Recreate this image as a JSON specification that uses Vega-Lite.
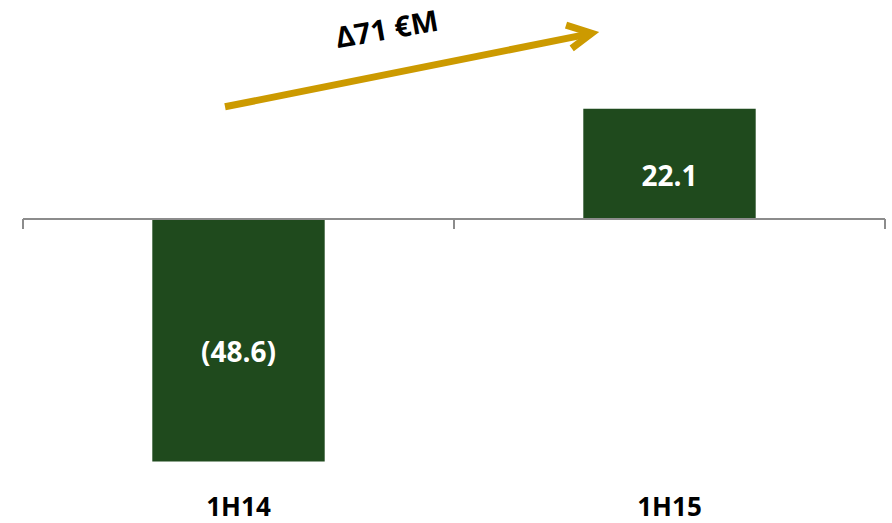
{
  "$schema": "https://vega.github.io/schema/vega-lite/v6.json",
  "width": 862,
  "height": 480,
  "padding": {"left": 22, "top": 0, "right": 8, "bottom": 10},
  "config": {"view": {"stroke": null}, "font": "Open Sans"},
  "datasets": {
    "bars": [
      {"period": "1H14", "value": -48.6, "label": "(48.6)"},
      {"period": "1H15", "value": 22.1, "label": "22.1"}
    ],
    "zero": [{"z": 0}],
    "ticks": [{"t": 0}, {"t": 1}, {"t": 2}],
    "shaft": [{"x1": 0.4687, "y1": 22.5, "x2": 1.3195, "y2": 37.2}],
    "head": [
      {"hx": 1.2599, "hy": 38.88, "k": 1},
      {"hx": 1.3195, "hy": 37.23, "k": 2},
      {"hx": 1.2731, "hy": 34.21, "k": 3}
    ],
    "note": [{"nx": 0.8445, "ny": 37.8, "txt": "Δ71 €M"}]
  },
  "layer": [
    {
      "data": {"name": "bars"},
      "mark": {"type": "bar", "color": "#1F4A1D", "width": {"band": 0.4}},
      "encoding": {
        "x": {
          "field": "period", "type": "nominal", "sort": null,
          "scale": {"paddingInner": 0, "paddingOuter": 0},
          "axis": {
            "title": null, "domain": false, "ticks": false, "tickSize": 0,
            "labelAngle": 0, "labelFont": "Open Sans", "labelFontWeight": "bold",
            "labelFontSize": 26, "labelColor": "#000000", "labelPadding": 35,
            "labelBaseline": "alphabetic"
          }
        },
        "y": {"field": "value", "type": "quantitative", "scale": {"domain": [-52.3, 43.9], "nice": false, "zero": false}, "axis": null}
      }
    },
    {
      "data": {"name": "bars"},
      "transform": [{"calculate": "datum.value / 2", "as": "mid"}],
      "mark": {"type": "text", "color": "#FFFFFF", "font": "Open Sans", "fontWeight": "bold", "fontSize": 28, "baseline": "middle", "dy": 14},
      "encoding": {
        "x": {"field": "period", "type": "nominal", "sort": null, "scale": {"paddingInner": 0, "paddingOuter": 0}, "axis": null},
        "y": {"field": "mid", "type": "quantitative", "scale": {"domain": [-52.3, 43.9], "nice": false, "zero": false}, "axis": null},
        "text": {"field": "label"}
      }
    },
    {
      "data": {"name": "zero"},
      "mark": {"type": "rule", "color": "#8C8C8C", "strokeWidth": 2},
      "encoding": {"y": {"field": "z", "type": "quantitative", "scale": {"domain": [-52.3, 43.9], "nice": false, "zero": false}, "axis": null}}
    },
    {
      "data": {"name": "ticks"},
      "mark": {"type": "rule", "color": "#8C8C8C", "strokeWidth": 2},
      "encoding": {
        "x": {"field": "t", "type": "quantitative", "scale": {"domain": [0, 2], "nice": false, "zero": false}, "axis": null},
        "y": {"datum": 0, "type": "quantitative", "scale": {"domain": [-52.3, 43.9], "nice": false, "zero": false}, "axis": null},
        "y2": {"datum": -2}
      }
    },
    {
      "data": {"name": "shaft"},
      "mark": {"type": "rule", "color": "#CC9A00", "strokeWidth": 7, "strokeCap": "butt"},
      "encoding": {
        "x": {"field": "x1", "type": "quantitative", "scale": {"domain": [0, 2], "nice": false, "zero": false}, "axis": null},
        "x2": {"field": "x2"},
        "y": {"field": "y1", "type": "quantitative", "scale": {"domain": [-52.3, 43.9], "nice": false, "zero": false}, "axis": null},
        "y2": {"field": "y2"}
      }
    },
    {
      "data": {"name": "head"},
      "mark": {"type": "line", "color": "#CC9A00", "strokeWidth": 7, "strokeCap": "butt", "strokeJoin": "miter"},
      "encoding": {
        "x": {"field": "hx", "type": "quantitative", "scale": {"domain": [0, 2], "nice": false, "zero": false}, "axis": null},
        "y": {"field": "hy", "type": "quantitative", "scale": {"domain": [-52.3, 43.9], "nice": false, "zero": false}, "axis": null},
        "order": {"field": "k"}
      }
    },
    {
      "data": {"name": "note"},
      "mark": {"type": "text", "color": "#000000", "font": "Open Sans", "fontWeight": "bold", "fontSize": 29, "angle": -10, "baseline": "middle", "align": "center"},
      "encoding": {
        "x": {"field": "nx", "type": "quantitative", "scale": {"domain": [0, 2], "nice": false, "zero": false}, "axis": null},
        "y": {"field": "ny", "type": "quantitative", "scale": {"domain": [-52.3, 43.9], "nice": false, "zero": false}, "axis": null},
        "text": {"field": "txt"}
      }
    }
  ],
  "resolve": {"scale": {"x": "independent"}}
}
